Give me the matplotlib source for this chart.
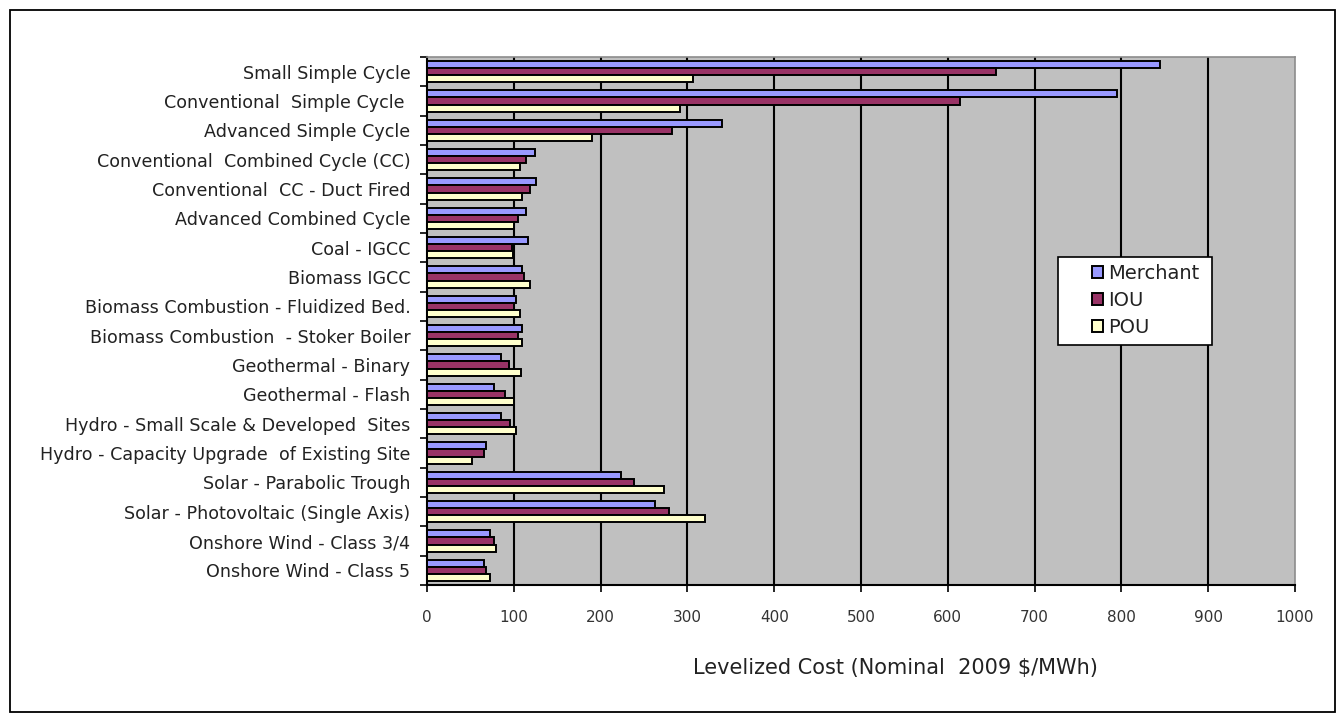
import numpy as np
import matplotlib
matplotlib.use("Agg")
import matplotlib.pyplot as plt
from matplotlib.patches import Rectangle

plt.rcParams['font.family'] = ['DejaVu Sans']

# Levelized cost by technology, nominal 2009 $/MWh
technologies = [
    "Small Simple Cycle",
    "Conventional  Simple Cycle ",
    "Advanced Simple Cycle",
    "Conventional  Combined Cycle (CC)",
    "Conventional  CC - Duct Fired",
    "Advanced Combined Cycle",
    "Coal - IGCC",
    "Biomass IGCC",
    "Biomass Combustion - Fluidized Bed.",
    "Biomass Combustion  - Stoker Boiler",
    "Geothermal - Binary",
    "Geothermal - Flash",
    "Hydro - Small Scale & Developed  Sites",
    "Hydro - Capacity Upgrade  of Existing Site",
    "Solar - Parabolic Trough",
    "Solar - Photovoltaic (Single Axis)",
    "Onshore Wind - Class 3/4",
    "Onshore Wind - Class 5",
]
merchant = [844, 795, 340, 124, 125, 114, 116, 110, 103, 110, 85, 77, 85, 68, 224, 263, 73, 66]
iou = [655, 614, 282, 114, 119, 105, 98, 112, 100, 105, 94, 90, 96, 66, 238, 279, 77, 68]
pou = [306, 291, 190, 107, 110, 100, 99, 119, 107, 110, 108, 100, 103, 52, 273, 320, 80, 73]

series = [("Merchant", merchant, "#9999FF"),
          ("IOU", iou, "#993366"),
          ("POU", pou, "#FFFFCC")]

W, H = 1338, 715
fig = plt.figure(figsize=(W / 100, H / 100), dpi=100)
fig.patch.set_facecolor("white")

# outer frame
fig.patches.append(Rectangle((10 / W, 3 / H), (W - 13) / W, (H - 13) / H,
                             transform=fig.transFigure, fill=False,
                             edgecolor="black", linewidth=1.3))

ax = fig.add_axes([427 / W, 1 - 585 / H, (1295 - 427) / W, (585 - 57) / H])
ax.set_facecolor("#C0C0C0")

y = np.arange(len(technologies))
h = 0.24
for k, (name, vals, col) in enumerate(series):
    ax.barh(y + (k - 1) * h, vals, height=h, color=col, edgecolor="black",
            linewidth=1.4, label=name, zorder=3)

ax.set_xlim(0, 1000)
ax.set_ylim(len(technologies) - 0.5, -0.5)
ax.set_xticks(np.arange(0, 1001, 100))
ax.tick_params(axis="x", labelsize=11, length=5, width=1.2, pad=13, colors="black")
ax.set_xticklabels([str(v) for v in range(0, 1001, 100)], color="#333333")

ax.set_yticks(y)
ax.set_yticklabels(technologies, fontsize=12.6, color="#222222")
ax.tick_params(axis="y", length=0, pad=12)
ax.set_yticks(np.arange(-0.5, len(technologies)), minor=True)
ax.tick_params(axis="y", which="minor", length=5, width=1.2)

for xv in range(100, 1000, 100):
    ax.axvline(xv, color="black", linewidth=1.5, zorder=1)

for s in ["top", "right"]:
    ax.spines[s].set_color("#8C8C8C")
    ax.spines[s].set_linewidth(1.2)
for s in ["left", "bottom"]:
    ax.spines[s].set_color("black")
    ax.spines[s].set_linewidth(1.5)

fig.text(895 / W, 1 - 668 / H, "Levelized Cost (Nominal  2009 $/MWh)",
         fontsize=15, ha="center", va="center", color="#222222")

# legend box, drawn separately so it can be wider than the entries
ax.add_patch(Rectangle((1058 / W, 1 - 345 / H), 154 / W, 88 / H,
                       transform=fig.transFigure, facecolor="white",
                       edgecolor="black", linewidth=1.2, zorder=5,
                       clip_on=False))
leg = ax.legend(loc="upper left", bbox_to_anchor=(1092 / W, 1 - 264 / H),
                bbox_transform=fig.transFigure, borderaxespad=0,
                fontsize=14, frameon=False,
                handlelength=0.55, handleheight=0.55, handletextpad=0.3,
                labelspacing=0.4, borderpad=0.0)
leg.set_zorder(6)
for t in leg.get_texts():
    t.set_color("#222222")

fig.savefig("out.png", dpi=100)
